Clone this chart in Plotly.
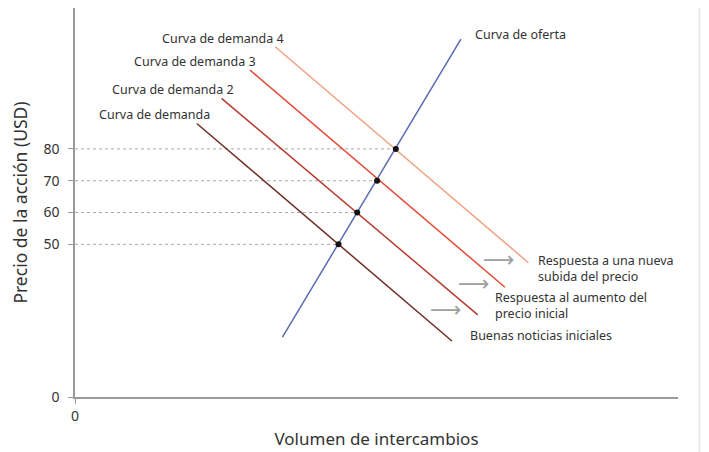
import plotly.graph_objects as go

# broken price axis: the "0" tick sits on the baseline, 50-80 on a linear scale
Y0 = 2.0
YTOP = 124.3

price_ticks = [50, 60, 70, 80]
price_labels = ["0", "50", "60", "70", "80"]

supply_x = [34.4, 64.0]
supply_y = [20.8, 114.5]

demand_names = ["Curva de demanda", "Curva de demanda 2", "Curva de demanda 3", "Curva de demanda 4"]
demand_x = [[20.2, 62.5], [24.3, 66.8], [29.0, 71.3], [33.2, 75.2]]
demand_y = [[88.0, 19.6], [95.9, 27.8], [104.8, 36.5], [112.1, 44.2]]
demand_colors = ["#6e2d22", "#b63b30", "#e24b36", "#f2a283"]

eq_x = [43.7, 46.8, 50.1, 53.2]
eq_y = [50, 60, 70, 80]

fig = go.Figure()

# dashed guides from the price axis to each equilibrium
for x, y in zip(eq_x, eq_y):
    fig.add_trace(go.Scatter(x=[0, x], y=[y, y], mode="lines",
                             line=dict(color="#a8a8a8", width=1, dash="3px,3px"),
                             hoverinfo="skip"))

for xs, ys, c, name in zip(demand_x, demand_y, demand_colors, demand_names):
    fig.add_trace(go.Scatter(x=xs, y=ys, mode="lines", name=name,
                             line=dict(color=c, width=1.5)))

fig.add_trace(go.Scatter(x=supply_x, y=supply_y, mode="lines", name="Curva de oferta",
                         line=dict(color="#5a6bb2", width=1.5)))

fig.add_trace(go.Scatter(x=eq_x, y=eq_y, mode="markers",
                         marker=dict(color="#111111", size=6)))

txt = dict(family="Noto Sans, Arial", size=12.5, color="#333333")

# curve labels
labels = [
    ("Curva de demanda", 22.7, 90.7, "right"),
    ("Curva de demanda 2", 26.7, 98.7, "right"),
    ("Curva de demanda 3", 30.35, 107.4, "right"),
    ("Curva de demanda 4", 35.0, 114.8, "right"),
    ("Curva de oferta", 65.95, 116.0, "left"),
    ("Respuesta a una nueva<br>subida del precio", 76.5, 42.45, "left"),
    ("Respuesta al aumento del<br>precio inicial", 69.4, 30.75, "left"),
    ("Buenas noticias iniciales", 65.1, 21.2, "left"),
]
for t, x, y, anchor in labels:
    fig.add_annotation(x=x, y=y, text=t, showarrow=False, xanchor=anchor,
                       yanchor="middle", align="left", font=txt)

# shift arrows
arrows = [(70.3, 45.3), (66.1, 37.7), (61.45, 29.6)]
for x, y in arrows:
    fig.add_annotation(x=x, y=y, text="⟶", showarrow=False, xanchor="center",
                       yanchor="middle",
                       font=dict(family="DejaVu Sans", size=22, color="#a0a0a0"))

# faint page edge on the right, as in the screenshot
fig.add_shape(type="rect", xref="paper", yref="paper",
              x0=1.035, x1=1.07, y0=-0.2, y1=1.05,
              fillcolor="#f4f4f4", line=dict(color="#e2e2e2", width=1),
              layer="below")

# the page body keeps its default 8px margin, so the figure is 8px smaller
fig.update_layout(
    width=701, height=444,
    margin=dict(l=67, r=31, t=0, b=55),
    paper_bgcolor="white", plot_bgcolor="white",
    showlegend=False,
    font=txt,
)

fig.update_xaxes(
    range=[0, 100], showgrid=False, zeroline=False,
    showline=True, linecolor="#9a9a9a", linewidth=1.5,
    tickvals=[0], ticktext=["0"], ticks="outside", ticklen=5,
    tickcolor="#9a9a9a", tickfont=dict(family="Noto Sans, Arial", size=14, color="#333333"),
    title=dict(text="Volumen de intercambios", standoff=10,
               font=dict(family="Noto Sans, Arial", size=17, color="#333333")),
)

fig.update_yaxes(
    range=[Y0, YTOP], showgrid=False, zeroline=False,
    showline=True, linecolor="#9a9a9a", linewidth=1.5,
    tickvals=[Y0] + price_ticks, ticktext=price_labels,
    ticks="outside", ticklen=5, tickcolor="#9a9a9a",
    ticklabelstandoff=6,
    tickfont=dict(family="Noto Sans, Arial", size=14, color="#333333"),
    title=dict(text="Precio de la acción (USD)", standoff=12,
               font=dict(family="Noto Sans, Arial", size=17.5, color="#333333")),
)

fig.write_html("out.html")
